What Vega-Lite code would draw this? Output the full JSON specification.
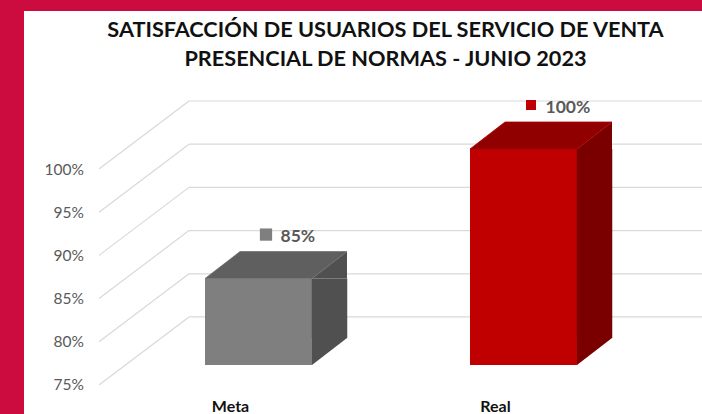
{
"$schema":"https://vega.github.io/schema/vega-lite/v6.json",
"width":678,"height":403,
"autosize":"none",
"padding":{"left":24,"top":11,"right":0,"bottom":0},
"background":"#CC0C3E",
"view":{"fill":"#FFFFFF","stroke":null},
"title":{"text":["SATISFACCIÓN DE USUARIOS DEL SERVICIO DE VENTA","PRESENCIAL DE NORMAS - JUNIO 2023"],"font":"Lato","fontWeight":"bold","fontSize":21.7,"lineHeight":29,"color":"#111111","anchor":"middle","dx":22.5,"offset":-60,"baseline":"top"},
"datasets":{
"resultados":[{"categoria":"Meta","valor":85,"etiqueta":"85%"},{"categoria":"Real","valor":100,"etiqueta":"100%"}],
"marcas":[{"pct":75},{"pct":80},{"pct":85},{"pct":90},{"pct":95},{"pct":100}]
},
"data":{"name":"resultados"},
"config":{"axis":{"grid":false,"domain":false,"ticks":false}},
"resolve":{"scale":{"color":"independent","stroke":"independent"}},
"encoding":{
"x":{"field":"categoria","type":"nominal","sort":null,"scale":{"range":[75,605],"paddingInner":0,"paddingOuter":0,"domain":["Meta","Real"]},"axis":{"title":null,"orient":"bottom","labelAngle":0,"labelFont":"Lato","labelFontWeight":"bold","labelFontSize":16,"labelColor":"#111111","labelBaseline":"middle","labelPadding":-8,"labelOffset":-1}},
"y":{"field":"valor","type":"quantitative","scale":{"domain":[71.64,118.29],"nice":false,"zero":false},"axis":{"title":null,"values":[75,80,85,90,95,100],"labelExpr":"datum.value+'%'","offset":-75,"labelPadding":15.5,"labelFont":"Lato","labelFontSize":15.5,"labelColor":"#595959"}}
},
"layer":[
{"data":{"name":"marcas"},"mark":{"type":"rule","color":"#D9D9D9","strokeWidth":1.2,"xOffset":-42.5,"x2Offset":205.5,"yOffset":-68,"y2Offset":-68},
 "encoding":{"x":{"datum":"Meta"},"x2":{"datum":"Real"},"y":{"field":"pct","type":"quantitative","axis":{"title":null,"values":[75,80,85,90,95,100],"labelExpr":"datum.value+'%'","offset":-75,"labelPadding":15.5,"labelFont":"Lato","labelFontSize":15.5,"labelColor":"#595959"}},"y2":{"field":"pct"}}},
{"data":{"name":"marcas"},"mark":{"type":"rule","color":"#D9D9D9","strokeWidth":1.2,"xOffset":-132.5,"x2Offset":-42.5,"y2Offset":-68},
 "encoding":{"x":{"datum":"Meta"},"x2":{"datum":"Meta"},"y":{"field":"pct","type":"quantitative"},"y2":{"field":"pct"}}},
{"mark":{"type":"bar","width":107,"xOffset":27,"yOffset":-20,"y2Offset":-20},
 "encoding":{"y2":{"datum":75},"color":{"field":"categoria","type":"nominal","scale":{"domain":["Meta","Real"],"range":["#7F7F7F","#C00000"]},"legend":null}}},
{"mark":{"type":"bar","width":35.5,"xOffset":98,"yOffset":-20,"y2Offset":-47},
 "encoding":{"y2":{"datum":75},"color":{"field":"categoria","type":"nominal","scale":{"domain":["Meta","Real"],"range":["#505050","#7A0000"]},"legend":null}}},
{"mark":{"type":"point","filled":true,"opacity":1,"size":4,"xOffset":27,"yOffset":-20,"shape":"M53.5,0L88.5,0L88.5,-27Z"},
 "encoding":{"color":{"field":"categoria","type":"nominal","scale":{"domain":["Meta","Real"],"range":["#505050","#7A0000"]},"legend":null}}},
{"mark":{"type":"point","filled":true,"opacity":1,"size":4,"xOffset":27,"yOffset":-20,"shape":"M53.5,0L88.5,-27L53.5,-27Z"},
 "encoding":{"y":{"datum":75},"color":{"field":"categoria","type":"nominal","scale":{"domain":["Meta","Real"],"range":["#505050","#7A0000"]},"legend":null}}},
{"mark":{"type":"point","filled":true,"opacity":1,"size":4,"strokeWidth":0.8,"xOffset":27,"yOffset":-20,"shape":"M-53.5,0L53.5,0L88.5,-27L-18.5,-27Z"},
 "encoding":{"color":{"field":"categoria","type":"nominal","scale":{"domain":["Meta","Real"],"range":["#5F5F5F","#900000"]},"legend":null},"stroke":{"field":"categoria","type":"nominal","scale":{"domain":["Meta","Real"],"range":["#6E6E6E","#B00000"]},"legend":null}}},
{"mark":{"type":"point","filled":true,"opacity":1,"shape":"square","xOffset":34.5,"yOffset":-64},
 "encoding":{"size":{"field":"categoria","type":"nominal","scale":{"domain":["Meta","Real"],"range":[150,100]},"legend":null},"color":{"field":"categoria","type":"nominal","scale":{"domain":["Meta","Real"],"range":["#7F7F7F","#C00000"]},"legend":null}}},
{"mark":{"type":"text","align":"left","baseline":"middle","xOffset":49,"yOffset":-61.5,"font":"Lato","fontWeight":"bold","fontSize":17.5,"color":"#595959"},
 "encoding":{"text":{"field":"etiqueta","type":"nominal"}}}
]
}
